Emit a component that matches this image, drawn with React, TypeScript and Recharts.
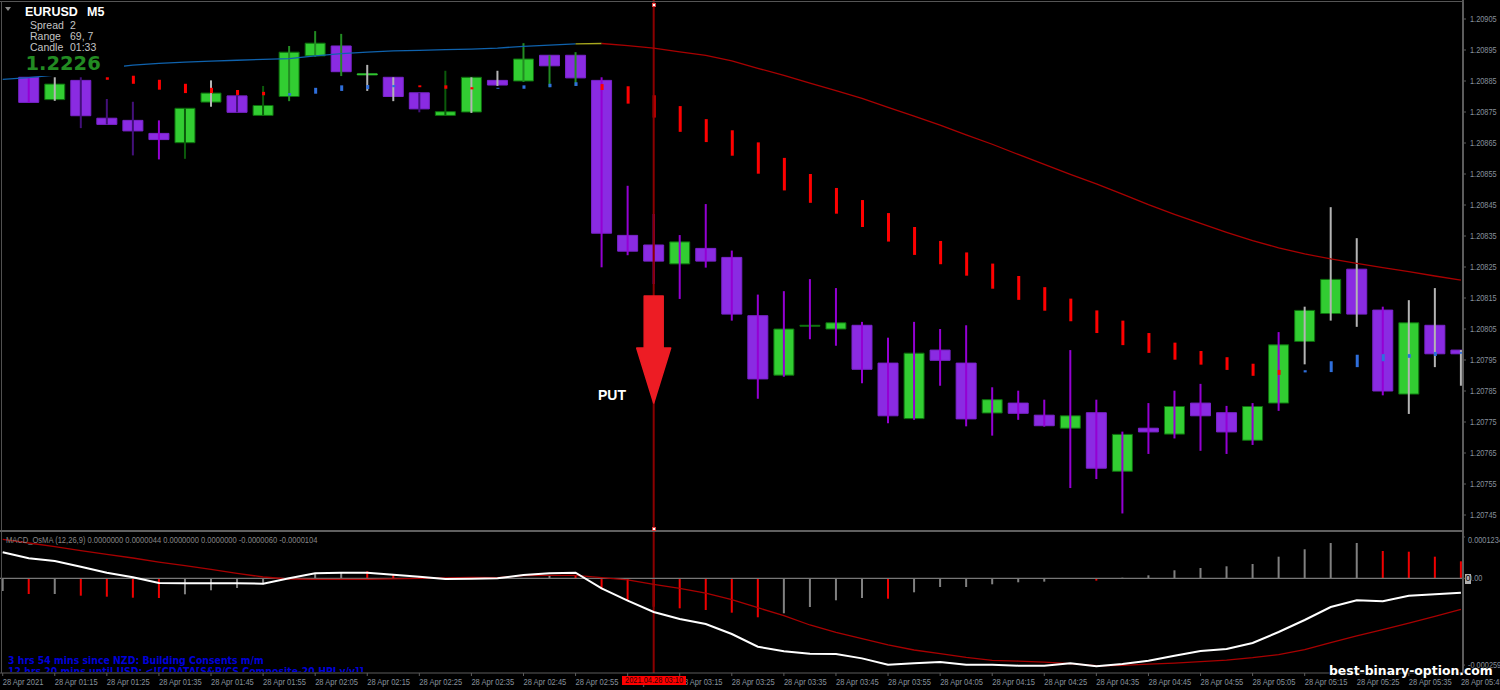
import { ComposedChart, Bar, Line, Cell, XAxis, YAxis, ReferenceLine, ReferenceDot } from 'recharts';

// prices are kept as points above 1.20000, the oscillator in millionths
const barTimes = [
  '01:05', '01:10', '01:15', '01:20', '01:25', '01:30', '01:35', '01:40', '01:45', '01:50',
  '01:55', '02:00', '02:05', '02:10', '02:15', '02:20', '02:25', '02:30', '02:35', '02:40',
  '02:45', '02:50', '02:55', '03:00', '03:05', '03:10', '03:15', '03:20', '03:25', '03:30',
  '03:35', '03:40', '03:45', '03:50', '03:55', '04:00', '04:05', '04:10', '04:15', '04:20',
  '04:25', '04:30', '04:35', '04:40', '04:45', '04:50', '04:55', '05:00', '05:05', '05:10',
  '05:15', '05:20', '05:25', '05:30', '05:35', '05:40', '05:45',
];

const opens = [
  null, 886.2, 879.0, 885.2, 873.0, 872.3, 868.1, 865.1, 878.2, 880.2,
  873.9, 880.0, 893.1, 896.3, 887.0, 886.2, 881.2, 873.9, 875.0, 885.2,
  885.0, 893.3, 893.3, 885.2, 835.2, 832.1, 826.0, 831.0, 828.1, 809.3,
  790.1, 805.9, 805.0, 806.2, 794.0, 776.1, 798.2, 794.0, 777.9, 781.1,
  777.2, 773.0, 778.0, 759.1, 773.0, 771.1, 781.1, 778.0, 769.1, 781.1,
  801.0, 810.0, 824.3, 811.1, 784.0, 806.2, 798.2,
];
const closes = [
  null, 878.1, 884.0, 873.8, 871.0, 868.9, 866.1, 876.2, 881.1, 874.9,
  877.1, 894.3, 897.2, 888.0, 887.3, 880.0, 876.0, 875.1, 886.2, 883.7,
  892.1, 889.9, 886.0, 835.9, 830.1, 826.9, 833.1, 826.9, 809.8, 788.9,
  805.0, 806.2, 807.0, 792.0, 777.0, 797.2, 794.9, 776.0, 782.2, 777.8,
  773.8, 777.0, 760.1, 771.0, 771.8, 780.0, 777.0, 771.8, 780.0, 799.9,
  811.0, 821.0, 809.8, 785.0, 807.0, 797.0, 797.0,
];
const highs = [
  null, 886.2, 886.2, 886.2, 879.2, 878.3, 872.3, 876.2, 885.2, 880.2,
  883.4, 896.3, 901.1, 900.2, 890.2, 886.2, 881.2, 888.3, 886.2, 888.3,
  897.2, 893.3, 894.3, 886.2, 851.2, 842.1, 835.3, 845.3, 830.3, 816.1,
  817.2, 821.1, 818.2, 807.3, 802.2, 807.3, 805.0, 806.2, 786.2, 785.1,
  782.2, 798.2, 782.2, 771.9, 781.1, 785.1, 787.3, 780.2, 781.1, 804.0,
  812.2, 844.3, 834.3, 812.2, 814.3, 818.2, 798.2,
];
const lows = [
  null, 878.1, 878.6, 869.8, 871.0, 861.0, 859.7, 859.9, 876.7, 874.9,
  873.9, 878.5, 892.8, 886.6, 881.8, 878.5, 874.9, 873.9, 874.7, 883.4,
  884.7, 883.0, 883.4, 824.9, 828.8, 819.5, 814.7, 824.8, 807.7, 782.5,
  789.6, 801.7, 799.6, 787.5, 774.6, 775.7, 786.7, 773.6, 770.6, 775.7,
  773.5, 753.7, 756.6, 745.5, 764.7, 769.7, 765.7, 764.7, 767.6, 778.6,
  793.6, 807.7, 805.7, 783.6, 777.6, 792.7, 786.7,
];
// g grey, v violet, i indigo, d dark green, f forest green
const wickKinds = [
  'g', 'v', 'g', 'i', 'i', 'i', 'v', 'd', 'g', 'i',
  'd', 'f', 'f', 'f', 'g', 'g', 'i', 'd', 'g', 'g',
  'f', 'f', 'f', 'v', 'v', 'v', 'v', 'v', 'v', 'v',
  'v', 'v', 'v', 'v', 'v', 'v', 'v', 'v', 'v', 'v',
  'v', 'v', 'v', 'v', 'v', 'v', 'v', 'v', 'v', 'v',
  'g', 'g', 'g', 'v', 'g', 'g', 'g',
];
const dotTops = [
  null, null, null, null, 886.2, 886.7, 885.4, 884.1, 882.8, 882.1,
  881.5, 881.1, 882.8, 883.6, 883.7, 883.7, 883.6, 883.6, 883.0, 882.8,
  883.6, 884.1, 884.6, 884.0, 883.3, 880.4, 876.9, 872.7, 869.1, 865.2,
  860.2, 855.0, 850.5, 846.6, 842.4, 837.9, 833.4, 829.7, 826.1, 822.1,
  818.5, 814.8, 811.0, 807.7, 803.7, 800.6, 797.9, 795.9, 793.8, 791.8,
  791.7, 794.6, 796.7, 796.9, 796.9, 797.6, 797.6,
];
const dotBottoms = [
  null, null, null, null, 885.4, 884.1, 882.2, 881.1, 881.1, 880.5,
  880.4, 880.3, 880.9, 881.8, 882.4, 883.0, 883.0, 882.5, 882.3, 882.5,
  882.5, 883.0, 883.4, 882.1, 877.7, 873.2, 868.6, 865.3, 860.9, 855.1,
  849.7, 845.7, 842.2, 837.9, 833.2, 828.9, 825.9, 822.2, 818.0, 814.4,
  810.9, 807.5, 803.7, 799.8, 797.3, 795.1, 793.5, 791.8, 789.9, 790.2,
  791.0, 791.1, 792.7, 794.6, 795.7, 796.3, 797.0,
];
const dotKinds = [
  'r', 'r', 'r', 'r', 'r', 'r', 'r', 'r', 'r', 'r',
  'r', 'b', 'b', 'b', 'b', 'b', 'r', 'r', 'r', 'b',
  'b', 'b', 'b', 'r', 'r', 'r', 'r', 'r', 'r', 'r',
  'r', 'r', 'r', 'r', 'r', 'r', 'r', 'r', 'r', 'r',
  'r', 'r', 'r', 'r', 'r', 'r', 'r', 'r', 'r', 'r',
  'b', 'b', 'b', 'b', 'b', 'b', 'b',
];
const movingAverage = [
  885.5, 886.1, 886.9, 887.9, 889.2, 890.1, 890.7, 891.1, 891.4, 891.7,
  892.0, 892.2, 893.1, 893.8, 894.3, 894.7, 894.9, 895.1, 895.3, 895.6,
  896.2, 896.6, 897.0, 897.1, 896.4, 895.6, 894.4, 893.3, 891.5, 889.1,
  886.8, 884.3, 881.9, 879.4, 876.5, 873.7, 870.8, 867.6, 864.6, 861.3,
  858.1, 854.9, 851.8, 848.5, 845.1, 842.0, 839.1, 836.2, 833.5, 831.2,
  829.2, 827.6, 826.2, 824.8, 823.5, 822.1, 820.8,
];
const priceTicks = [
  1.20745, 1.20755, 1.20765, 1.20775, 1.20785, 1.20795, 1.20805, 1.20815, 1.20825,
  1.20835, 1.20845, 1.20855, 1.20865, 1.20875, 1.20885, 1.20895, 1.20905,
];

const histogram = [
  -37.9, -46.9, -46.9, -51.9, -54.9, -57.9, -58.8, -47.8, -35.8, -29,
  -17.9, -3, 14.9, 16.7, 20.9, 9.9, 4.8, -3, -2, 1,
  -2, 6.9, 9.9, -32.8, -64.8, -84.8, -89.6, -94.6, -102.6, -116.4,
  -104.5, -85.7, -65.7, -58.8, -60.9, -41.8, -26, -26, -17.9, -11.9,
  -10, 0, -7, 1.8, 8.9, 23.9, 30.7, 35.8, 42.7, 64.5,
  86.6, 105.4, 105.4, 81.5, 79.4, 64.5, 50.7,
];
const histKinds = [
  'g', 'r', 'g', 'r', 'r', 'r', 'r', 'g', 'g', 'g',
  'g', 'g', 'g', 'g', 'r', 'r', 'r', 'g', 'g', 'g',
  'g', 'g', 'r', 'r', 'r', 'r', 'r', 'r', 'r', 'r',
  'g', 'g', 'g', 'g', 'r', 'g', 'g', 'g', 'g', 'g',
  'g', 'g', 'r', 'g', 'g', 'g', 'g', 'g', 'g', 'g',
  'g', 'g', 'g', 'r', 'r', 'r', 'r',
];
const macdLine = [
  77.5, 59.6, 51.6, 34.7, 16.8, 2.9, -14, -15, -15, -15,
  -16, -0.1, 14.8, 16.8, 16.8, 10.8, 4.9, -2.1, -1.1, -0.1,
  9.9, 14.8, 16.8, -29.9, -66.8, -100.6, -121.5, -136.4, -166.3, -204.1,
  -218, -225, -226, -239, -257.8, -253.8, -249.8, -257.8, -257.8, -260.8,
  -260.8, -253.8, -262.8, -255.8, -245.9, -231, -217, -211, -193.1, -160.3,
  -124.5, -85.7, -65.8, -68.8, -51.8, -47.9, -42.9,
];
const signalLine = [
  116.3, 105.4, 94.4, 82.5, 71.5, 60.6, 48.6, 37.7, 26.8, 14.8,
  3.9, -2.1, -3, -3, -3, -2, 0, 1, 3, 2,
  7.9, 8.9, 8.9, 1.9, -5, -18, -30, -44, -63.8, -87.7,
  -111.5, -139.4, -161.3, -180.2, -199, -214, -225, -236, -245, -247,
  -250, -255, -261, -260, -256, -253, -249, -244, -237, -228,
  -213, -192, -172, -153, -134, -114, -93,
];
const oscTicks = [-259, 0, 123.4];
const oscTickLabels: Record<string, string> = { '-259': '-0.000259', '0': '0.00', '123.4': '0.0001234' };

const WICK_COLORS: Record<string, string> = {
  g: '#b4b4b4', v: '#9400d3', i: '#43107a', d: '#0b5a0b', f: '#228b22',
};
const DOT_COLORS: Record<string, string> = { r: '#ff0000', b: '#2f6fdc' };
const HIST_COLORS: Record<string, string> = { r: '#f00000', g: '#808080' };

const CROSS_INDEX = 25;
const CHART_FONT = '"Liberation Sans", Arial, sans-serif';
const X_DOMAIN: [number, number] = [-0.1037, 56.08];
const AXIS_GREY = '#5c5c5c';
const TICK_TEXT = '#87919c';

const price = (pts: number | null) => (pts == null ? null : 1.2 + pts / 100000);

const priceData = barTimes.map((time, i) => {
  const o = price(opens[i]);
  const c = price(closes[i]);
  const hi = price(highs[i]);
  const lo = price(lows[i]);
  const top = price(dotTops[i]);
  const bottom = price(dotBottoms[i]);
  return {
    idx: i,
    time,
    body: o == null || c == null ? null : [Math.min(o, c), Math.max(o, c)],
    wick: hi == null || lo == null ? null : [lo, hi],
    dot: top == null || bottom == null ? null : [bottom, top],
    maBlue: i <= 22 ? price(movingAverage[i]) : null,
    maYellow: i === 22 || i === 23 ? price(movingAverage[i]) : null,
    maRed: i >= 23 ? price(movingAverage[i]) : null,
  };
});

const oscData = barTimes.map((time, i) => ({
  idx: i,
  time,
  hist: histogram[i],
  macd: macdLine[i],
  signal: signalLine[i],
}));

function PriceTick({ x, y, payload }: any) {
  return (
    <g transform={`translate(${x + 2},${y + 3}) scale(0.82,1)`}>
      <text fontSize={9} fontFamily={CHART_FONT} fill={TICK_TEXT}>{payload.value.toFixed(5)}</text>
    </g>
  );
}

function OscTick({ x, y, payload }: any) {
  return (
    <g transform={`translate(${x + 1},${y + 3}) scale(0.82,1)`}>
      <text fontSize={9} fontFamily={CHART_FONT} fill={TICK_TEXT}>{oscTickLabels[String(payload.value)]}</text>
    </g>
  );
}

function TimeTick({ x, y, payload }: any) {
  const label = payload.value === 0 ? '28 Apr 2021' : `28 Apr ${barTimes[payload.value]}`;
  return (
    <g transform={`translate(${x},${y + 7}) scale(0.84,1)`}>
      <text fontSize={9} fontFamily={CHART_FONT} fill={TICK_TEXT}>{label}</text>
    </g>
  );
}

// the big PUT arrow, cx/cy is its tip
function PutArrow({ cx, cy }: any) {
  const pts = [[0, 0], [-17, -55], [-9.5, -55], [-9.5, -107], [9.5, -107], [9.5, -55], [17, -55]];
  return (
    <polygon
      points={pts.map(([a, b]) => `${cx + a},${cy + b}`).join(' ')}
      fill="#ed1c24"
      stroke="#ed1c24"
      strokeWidth={1.5}
      strokeLinejoin="round"
    />
  );
}

function Label({ x, y, children, style }: any) {
  return (
    <div style={{ position: 'absolute', left: x, top: y, whiteSpace: 'pre', fontFamily: CHART_FONT, lineHeight: 1, ...style }}>
      {children}
    </div>
  );
}

function PriceChart() {
  return (
    <ComposedChart width={1500} height={531} data={priceData} margin={{ top: 0, right: 0, bottom: 0, left: 0 }}>
      <XAxis xAxisId="body" dataKey="idx" type="number" domain={X_DOMAIN} allowDataOverflow hide />
      <XAxis xAxisId="wick" dataKey="idx" type="number" domain={X_DOMAIN} allowDataOverflow hide />
      <XAxis xAxisId="dot" dataKey="idx" type="number" domain={X_DOMAIN} allowDataOverflow hide />
      <YAxis
        orientation="right"
        width={37}
        domain={[1.2073984, 1.2091113]}
        allowDataOverflow
        ticks={priceTicks}
        tick={<PriceTick />}
        tickSize={3}
        tickLine={{ stroke: AXIS_GREY }}
        axisLine={{ stroke: AXIS_GREY, strokeWidth: 2 }}
      />
      <ReferenceLine xAxisId="body" x={CROSS_INDEX} stroke="#8b0000" strokeWidth={2} />
      <Bar xAxisId="body" dataKey="body" barSize={20} isAnimationActive={false}>
        {priceData.map((d, i) => {
          const up = (closes[i] ?? 0) >= (opens[i] ?? 0);
          return (
            <Cell
              key={d.time}
              fill={up ? '#32cd32' : '#8a2be2'}
              stroke={i === 14 ? '#32cd32' : up ? '#0c6e0c' : '#7a24cc'}
              strokeWidth={1}
            />
          );
        })}
      </Bar>
      <Bar xAxisId="wick" dataKey="wick" barSize={2} isAnimationActive={false}>
        {priceData.map((d, i) => (
          <Cell key={d.time} fill={WICK_COLORS[wickKinds[i]]} />
        ))}
      </Bar>
      <Bar xAxisId="dot" dataKey="dot" barSize={3} isAnimationActive={false}>
        {priceData.map((d, i) => (
          <Cell key={d.time} fill={DOT_COLORS[dotKinds[i]]} />
        ))}
      </Bar>
      <Line xAxisId="body" dataKey="maBlue" stroke="#0f62ad" strokeWidth={1.3} dot={false} activeDot={false} isAnimationActive={false} />
      <Line xAxisId="body" dataKey="maYellow" stroke="#a8a81e" strokeWidth={1.3} dot={false} activeDot={false} isAnimationActive={false} />
      <Line xAxisId="body" dataKey="maRed" stroke="#a80000" strokeWidth={1.3} dot={false} activeDot={false} isAnimationActive={false} />
      <ReferenceDot xAxisId="body" x={CROSS_INDEX} y={price(781.1) as number} shape={<PutArrow />} />
    </ComposedChart>
  );
}

function OscChart() {
  return (
    <ComposedChart width={1500} height={159} data={oscData} margin={{ top: 0, right: 0, bottom: 0, left: 0 }}>
      <XAxis
        dataKey="idx"
        type="number"
        domain={X_DOMAIN}
        allowDataOverflow
        ticks={barTimes.map((_, i) => i).filter((i) => i % 2 === 0)}
        tick={<TimeTick />}
        tickSize={3}
        height={17}
        interval={0}
        tickLine={{ stroke: AXIS_GREY }}
        axisLine={{ stroke: AXIS_GREY }}
      />
      <YAxis
        orientation="right"
        width={37}
        domain={[-282.7, 141.2]}
        allowDataOverflow
        ticks={oscTicks}
        tick={<OscTick />}
        tickSize={2}
        tickLine={{ stroke: AXIS_GREY }}
        axisLine={{ stroke: AXIS_GREY, strokeWidth: 2 }}
      />
      <ReferenceLine x={CROSS_INDEX} stroke="#8b0000" strokeWidth={2} />
      <ReferenceLine y={0} stroke="#777777" strokeWidth={1.2} />
      <Bar dataKey="hist" barSize={2} isAnimationActive={false}>
        {oscData.map((d, i) => (
          <Cell key={d.time} fill={HIST_COLORS[histKinds[i]]} />
        ))}
      </Bar>
      <Line dataKey="signal" stroke="#a80000" strokeWidth={1.3} dot={false} activeDot={false} isAnimationActive={false} />
      <Line dataKey="macd" stroke="#ffffff" strokeWidth={2} dot={false} activeDot={false} isAnimationActive={false} />
    </ComposedChart>
  );
}

export default function App() {
  return (
    <div style={{ position: 'fixed', left: 0, top: 0, width: 1500, height: 690, background: '#000', overflow: 'hidden' }}>
      <div style={{ position: 'absolute', left: 0, top: 0 }}><PriceChart /></div>
      <div style={{ position: 'absolute', left: 0, top: 531 }}><OscChart /></div>

      {/* frame */}
      <div style={{ position: 'absolute', left: 0, top: 1, width: 1464, height: 1, background: '#555' }} />
      <div style={{ position: 'absolute', left: 1, top: 1, width: 1, height: 672, background: '#505050' }} />
      <div style={{ position: 'absolute', left: 0, top: 530, width: 1464, height: 2, background: '#606060' }} />

      {/* header panel, hides the average behind it */}
      <div style={{ position: 'absolute', left: 16, top: 3, width: 108, height: 73, background: '#000' }} />
      <svg style={{ position: 'absolute', left: 4, top: 6 }} width={8} height={6}>
        <polygon points="1,1 7,1 4,5" fill="#8a8a8a" />
      </svg>
      <Label x={25} y={6} style={{ color: '#fff', fontSize: 12.5, fontWeight: 700 }}>EURUSD</Label>
      <Label x={87} y={6} style={{ color: '#fff', fontSize: 12.5, fontWeight: 700 }}>M5</Label>
      <Label x={30} y={20} style={{ color: '#c4c4c4', fontSize: 10.5 }}>Spread</Label>
      <Label x={70} y={20} style={{ color: '#c4c4c4', fontSize: 10.5 }}>2</Label>
      <Label x={30} y={31} style={{ color: '#c4c4c4', fontSize: 10.5 }}>Range</Label>
      <Label x={70} y={31} style={{ color: '#c4c4c4', fontSize: 10.5 }}>69, 7</Label>
      <Label x={30} y={42} style={{ color: '#c4c4c4', fontSize: 10.5 }}>Candle</Label>
      <Label x={70} y={42} style={{ color: '#c4c4c4', fontSize: 10.5 }}>01:33</Label>
      <Label x={25.5} y={54} style={{ color: '#228b22', fontSize: 19.5, fontWeight: 700, fontFamily: '"DejaVu Sans"' }}>1.2226</Label>

      <Label x={598} y={388} style={{ color: '#fff', fontSize: 14, fontWeight: 700 }}>PUT</Label>

      {/* crosshair handles */}
      <div style={{ position: 'absolute', left: 652, top: 3, width: 4, height: 4, boxSizing: 'border-box', background: '#fff', border: '1px solid #e04040' }} />
      <div style={{ position: 'absolute', left: 652, top: 527, width: 4, height: 4, boxSizing: 'border-box', background: '#fff', border: '1px solid #e04040' }} />

      <Label x={6} y={536} style={{ color: '#868686', fontSize: 9, transform: 'scaleX(0.84)', transformOrigin: 'left' }}>
        MACD_OsMA (12,26,9) 0.0000000 0.0000044 0.0000000 0.0000000 -0.0000060 -0.0000104
      </Label>

      <Label x={8} y={655} style={{ color: '#0000d8', fontSize: 10.5, fontWeight: 700, fontFamily: '"DejaVu Sans"', transform: 'scaleX(0.89)', transformOrigin: 'left' }}>
        3 hrs 54 mins since NZD: Building Consents m/m
      </Label>
      <div style={{ position: 'absolute', left: 8, top: 660, height: 12, width: 400, overflow: 'hidden' }}>
        <Label x={0} y={6} style={{ color: '#0000d8', fontSize: 10.5, fontWeight: 700, fontFamily: '"DejaVu Sans"', transform: 'scaleX(0.89)', transformOrigin: 'left' }}>
          {'12 hrs 20 mins until USD: <![CDATA[S&P/CS Composite-20 HPI y/y]]'}
        </Label>
      </div>

      <div style={{ position: 'absolute', left: 622, top: 676, width: 64, height: 9, background: '#ff0000' }} />
      <Label x={625} y={676} style={{ color: '#300000', fontSize: 9, transform: 'scaleX(0.83)', transformOrigin: 'left' }}>
        2021.04.28 03:10
      </Label>
      <Label x={1465} y={574} style={{ width: 6, height: 10, background: '#b0b0b0', color: '#000', fontSize: 9, textAlign: 'center' }}>0</Label>

      <Label x={1329} y={665} style={{ color: '#fff', fontSize: 12.4, fontWeight: 700, fontFamily: '"DejaVu Sans"', textShadow: '0 0 2px #000, 0 0 2px #000' }}>
        best-binary-option.com
      </Label>
    </div>
  );
}
